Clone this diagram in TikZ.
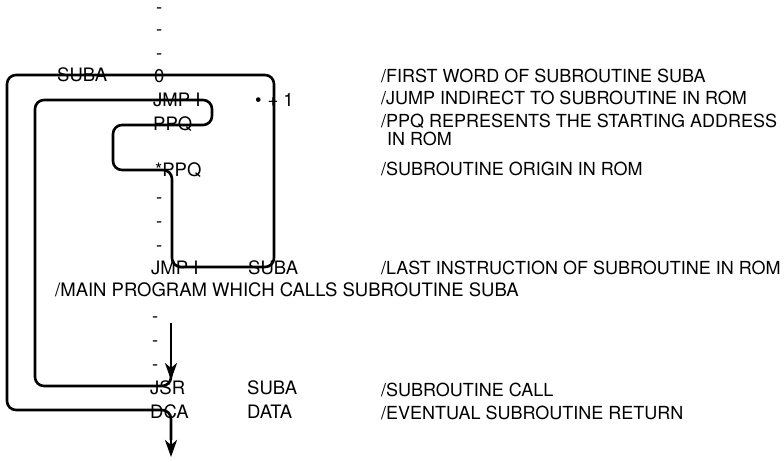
\documentclass[tikz,border=0pt]{standalone}
\usepackage{fontspec}
\setmainfont{TeX Gyre Heros}
\usetikzlibrary{arrows.meta}

\begin{document}
\begin{tikzpicture}[x=1pt, y=-1pt,
  code/.style={anchor=base west, inner sep=0pt, yshift=-6.5pt, font=\fontsize{18.5}{22}\selectfont},
  note/.style={anchor=base west, inner sep=0pt, yshift=-6pt, font=\fontsize{18}{22}\selectfont},
  flow/.style={line width=2.6pt, rounded corners=9pt},
  tip/.style={-{Stealth[length=17pt, width=12pt, inset=5pt]}}
]
\useasboundingbox (0,0) rectangle (784,462);

% program listing
\node[code] (d1) at (156,7) {-};
\node[code] (d2) at (156,29) {-};
\node[code] (d3) at (156,53) {-};
\node[code] (suba) at (57,75) {SUBA};
\node[code] (zero) at (154,76) {0};
\node[code] (jmpa) at (153,100) {JMP I};
\node[code] (dot) at (255,100) {•\hspace{6pt}+\hspace{5pt}1};
\node[code] (ppq) at (153,124) {PPQ};
\node[code] (org) at (155,170) {*PPQ};
\node[code] (d4) at (156,197) {-};
\node[code] (d5) at (156,221) {-};
\node[code] (d6) at (156,245) {-};
\node[code] (jmpb) at (151,268) {JMP I};
\node[code] (jmpbarg) at (248,268) {SUBA};
\node[code] (main) at (55,290) {/MAIN PROGRAM WHICH CALLS SUBROUTINE SUBA};
\node[code] (d7) at (152,316) {-};
\node[code] (d8) at (152,340) {-};
\node[code] (d9) at (152,364) {-};
\node[code] (jsr) at (150,388) {JSR};
\node[code] (jsrarg) at (247,388) {SUBA};
\node[code] (dca) at (150,412) {DCA};
\node[code] (dcaarg) at (247,412) {DATA};

% comments
\node[note] (c1) at (381,77) {/FIRST WORD OF SUBROUTINE SUBA};
\node[note] (c2) at (381,99) {/JUMP INDIRECT TO SUBROUTINE IN ROM};
\node[note] (c3) at (381,122) {/PPQ REPRESENTS THE STARTING ADDRESS};
\node[note] (c3b) at (387,140) {IN ROM};
\node[note] (c4) at (381,170) {/SUBROUTINE ORIGIN IN ROM};
\node[note] (c5) at (381,268) {/LAST INSTRUCTION OF SUBROUTINE IN ROM};
\node[note] (c6) at (381,390) {/SUBROUTINE CALL};
\node[note] (c7) at (381,413) {/EVENTUAL SUBROUTINE RETURN};

% flow of control
\coordinate (callin) at (171,323);
\coordinate (callhit) at (171,380);
\coordinate (retout) at (171,457);

\draw[flow, tip] (callin) -- (callhit);
\draw[flow] (171,368) |- (35,386) -- (35,100) -- (212,100) -- (212,125)
  -- (113,125) -- (113,170) -- (172,170) -- (172,267) -- (274,267)
  -- (274,75) -- (7,75) -- (7,410) -- (171,410) -- (171,440);
\draw[flow, tip] (171,430) -- (retout);
\end{tikzpicture}
\end{document}
